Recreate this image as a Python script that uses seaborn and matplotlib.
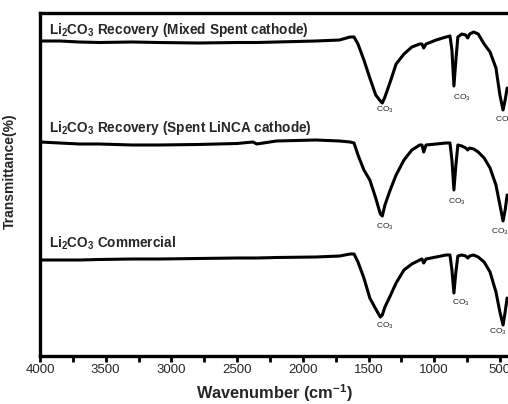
import numpy as np
import pandas as pd
import matplotlib
matplotlib.use('Agg')
import matplotlib.pyplot as plt
import seaborn as sns

# FTIR spectra (transmittance in arbitrary, stacked units)
wavenumber = [4000, 3850, 3700, 3550, 3300, 3100, 2800, 2500, 2380, 2350, 2200, 1900,
              1720, 1640, 1610, 1580, 1535, 1490, 1445, 1410, 1395, 1375, 1335, 1290,
              1230, 1170, 1110, 1093, 1080, 1062, 985, 910, 880, 865, 850, 835, 820,
              790, 760, 745, 730, 700, 665, 620, 575, 530, 500, 476, 460, 445]

mixed_spent = [363, 363, 362, 361.5, 362, 361.5, 361, 361.5, 361.5, 361.5, 362, 363,
               364, 367, 367, 360, 344, 326, 309, 303, 301, 307, 322, 340,
               350, 357, 360, 360, 356, 360, 364, 367, 368, 354, 318, 344, 367,
               370, 369, 366, 370, 372, 370, 360, 352, 336, 309, 294, 304, 316]

spent_linca = [262, 261, 260, 260, 259, 259, 259.5, 260.5, 262, 260, 263, 264,
               263, 262, 261, 249, 234, 224, 206, 190, 188, 199, 214, 229,
               244, 254, 259, 259, 252, 259, 260, 261, 261, 244, 214, 239, 259,
               258, 256, 254, 256, 255, 252, 246, 236, 219, 199, 183, 194, 209]

commercial = [144, 144, 144, 144.5, 145, 145, 145.5, 146, 146, 146, 146.5, 147,
              148, 150, 150, 142, 126, 106, 95, 87, 89, 97, 108, 121,
              134, 140, 144, 145, 141, 145, 147, 149, 149, 134, 111, 132, 148,
              149, 148, 146, 148, 149, 147, 142, 132, 112, 92, 79, 92, 106]

series_names = ['Li$_\\mathbf{2}$CO$_\\mathbf{3}$ Recovery (Mixed Spent cathode)',
                'Li$_\\mathbf{2}$CO$_\\mathbf{3}$ Recovery (Spent LiNCA cathode)',
                'Li$_\\mathbf{2}$CO$_\\mathbf{3}$ Commercial']
name_y = [374, 276, 161]

# CO3 band labels (wavenumber, transmittance)
co3_x = [1374, 788, 470, 1374, 826, 499, 1374, 796, 514]
co3_y = [294, 306, 284, 177, 202, 172, 78, 101, 72]

sns.set_theme(style='ticks')
plt.rcParams['font.family'] = ['Liberation Sans', 'DejaVu Sans']
plt.rcParams['mathtext.fontset'] = 'custom'
plt.rcParams['mathtext.rm'] = 'Liberation Sans'
plt.rcParams['mathtext.bf'] = 'Liberation Sans:bold'

fig = plt.figure(figsize=(5.08, 4.04), dpi=100)
ax = fig.add_axes([40 / 508, 48 / 404, 468 / 508, 343 / 404])

for vals in [mixed_spent, spent_linca, commercial]:
    sns.lineplot(x=wavenumber, y=vals, sort=False, color='black', lw=2.2, ax=ax)

for name, ty in zip(series_names, name_y):
    ax.text(3930, ty, name, fontsize=9.8, fontweight='bold', va='center', ha='left')

for cx, cy in zip(co3_x, co3_y):
    ax.text(cx, cy, 'CO$_3$', fontsize=6, ha='center', va='center', color='#222222')

ax.set_xlim(4000, 4000 - 468 / 0.1314)
ax.set_ylim(48, 391)
ax.set_xticks([4000, 3500, 3000, 2500, 2000, 1500, 1000, 500])
ax.set_xticks(np.arange(3750, 400, -500), minor=True)
ax.set_yticks([])
ax.tick_params(axis='x', which='both', direction='out', length=4, width=2,
               labelsize=9.5, pad=2, color='black')
for side in ['left', 'top', 'bottom']:
    ax.spines[side].set_linewidth(2.4)
    ax.spines[side].set_color('black')
ax.spines['right'].set_visible(False)

ax.set_xlabel('Wavenumber (cm$^{\\mathbf{-1}}$)', fontsize=11.8, fontweight='bold', labelpad=4)
ax.set_ylabel('Transmittance(%)', fontsize=10, fontweight='bold')
ax.yaxis.set_label_coords(-0.049, 0.54)

fig.savefig('out.png', dpi=100)
